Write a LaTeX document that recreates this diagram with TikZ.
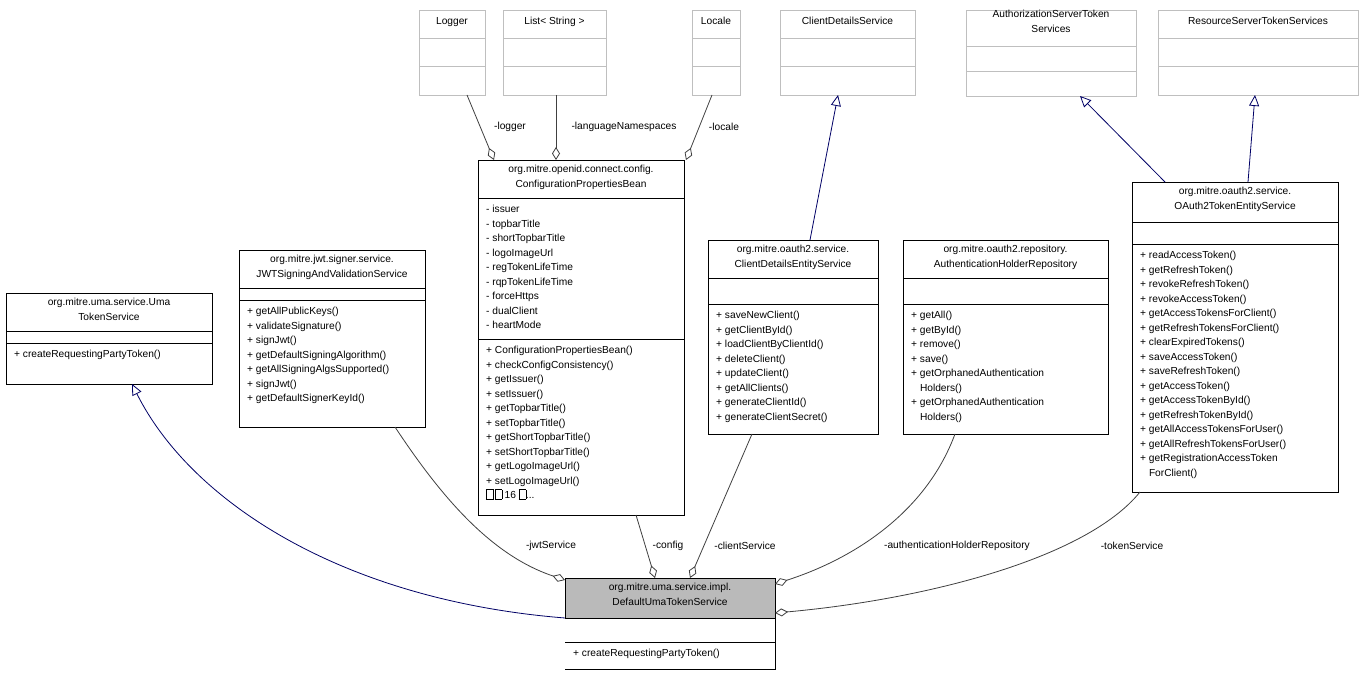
\documentclass[tikz,border=0pt]{standalone}
\usepackage{fontspec}
\setmainfont{Liberation Sans}
\usetikzlibrary{arrows.meta}
\begin{document}
\begin{tikzpicture}[x=1pt,y=-1pt,
  txt/.style={font=\fontsize{10.2}{14.5}\selectfont,inner sep=0pt,align=left},
  ttl/.style={txt,align=center,anchor=north},
  lst/.style={txt,anchor=north west},
  agg/.style={draw=black!75,line width=0.8pt,-{Diamond[open,length=13pt,width=8pt]}},
  gen/.style={draw=blue!40!black,line width=0.8pt,-{Triangle[open,length=11pt,width=10pt]}},
  lbl/.style={txt,fill=white,inner sep=1pt}]
\def\mysq{\framebox(7,9){}}
\def\umlfill{white}
\def\umlframe#1#2#3#4#5#6#7#8{%
  \node[draw=#8,line width=0.8pt,anchor=north west,inner sep=0pt,minimum width=#4*1pt,minimum height={(#7-#3)*1pt},fill=\umlfill] (#1) at (#2,#3) {};
  \draw[draw=#8,line width=0.8pt] (#2,#5) -- ++(#4,0) (#2,#6) -- ++(#4,0);}
\fill[white] (0,0) rectangle (1363,676);
\useasboundingbox (0,0) rectangle (1363,676);
% external classes
\umlframe{logger}{419}{10}{66}{38}{66}{95}{black!25}
\node[ttl] at (452,17) {Logger};
\umlframe{list}{503}{10}{103}{38}{66}{95}{black!25}
\node[ttl] at (554.5,17) {List< String >};
\umlframe{locale}{692}{10}{48}{38}{66}{95}{black!25}
\node[ttl] at (716,17) {Locale};
\umlframe{cds}{780}{10}{135}{38}{66}{95}{black!25}
\node[ttl] at (847.5,17) {ClientDetailsService};
\umlframe{asts}{966}{10}{170}{46}{71}{96}{black!25}
\node[ttl] at (1051,10) {AuthorizationServerToken\\Services};
\umlframe{rsts}{1158}{10}{200}{38}{66}{95}{black!25}
\node[ttl] at (1258,17) {ResourceServerTokenServices};
% config
\umlframe{cfg}{478}{160}{206}{198}{339}{515}{black}
\node[ttl] at (581,165) {org.mitre.openid.connect.config.\\ConfigurationPropertiesBean};
\node[lst] at (486,205) {- issuer\\- topbarTitle\\- shortTopbarTitle\\- logoImageUrl\\- regTokenLifeTime\\- rqpTokenLifeTime\\- forceHttps\\- dualClient\\- heartMode};
\node[lst] at (486,346) {+ ConfigurationPropertiesBean()\\+ checkConfigConsistency()\\+ getIssuer()\\+ setIssuer()\\+ getTopbarTitle()\\+ setTopbarTitle()\\+ getShortTopbarTitle()\\+ setShortTopbarTitle()\\+ getLogoImageUrl()\\+ setLogoImageUrl()\\\mysq\,\mysq{} 16 \mysq...};
% jwt
\umlframe{jwt}{239}{250}{186}{288}{300}{427}{black}
\node[ttl] at (332,255) {org.mitre.jwt.signer.service.\\JWTSigningAndValidationService};
\node[lst] at (247,307) {+ getAllPublicKeys()\\+ validateSignature()\\+ signJwt()\\+ getDefaultSigningAlgorithm()\\+ getAllSigningAlgsSupported()\\+ signJwt()\\+ getDefaultSignerKeyId()};
% uma
\umlframe{uma}{6}{293}{206}{331}{343}{384}{black}
\node[ttl] at (109,298) {org.mitre.uma.service.Uma\\TokenService};
\node[lst] at (14,350) {+ createRequestingPartyToken()};
% client details entity
\umlframe{cdes}{708}{240}{170}{278}{304}{434}{black}
\node[ttl] at (793,245) {org.mitre.oauth2.service.\\ClientDetailsEntityService};
\node[lst] at (716,311) {+ saveNewClient()\\+ getClientById()\\+ loadClientByClientId()\\+ deleteClient()\\+ updateClient()\\+ getAllClients()\\+ generateClientId()\\+ generateClientSecret()};
% auth holder
\umlframe{ahr}{903}{240}{205}{278}{304}{434}{black}
\node[ttl] at (1005.5,245) {org.mitre.oauth2.repository.\\AuthenticationHolderRepository};
\node[lst] at (911,311) {+ getAll()\\+ getById()\\+ remove()\\+ save()\\+ getOrphanedAuthentication\\\phantom{+ }Holders()\\+ getOrphanedAuthentication\\\phantom{+ }Holders()};
% oauth2 token entity
\umlframe{otes}{1132}{182}{206}{222}{244}{492}{black}
\node[ttl] at (1235,187) {org.mitre.oauth2.service.\\OAuth2TokenEntityService};
\node[lst] at (1140,251) {+ readAccessToken()\\+ getRefreshToken()\\+ revokeRefreshToken()\\+ revokeAccessToken()\\+ getAccessTokensForClient()\\+ getRefreshTokensForClient()\\+ clearExpiredTokens()\\+ saveAccessToken()\\+ saveRefreshToken()\\+ getAccessToken()\\+ getAccessTokenById()\\+ getRefreshTokenById()\\+ getAllAccessTokensForUser()\\+ getAllRefreshTokensForUser()\\+ getRegistrationAccessToken\\\phantom{+ }ForClient()};
% default
\def\umlfill{black!27}
\umlframe{dflt}{565}{578}{210}{618}{642}{669}{black}
\fill[white] (565.4,618.4) rectangle (774.6,668.6);
\draw[line width=0.8pt] (565,618) -- (775,618) (565,642) -- (775,642);
\node[ttl] at (670,583) {org.mitre.uma.service.impl.\\DefaultUmaTokenService};
\node[lst] at (573,649) {+ createRequestingPartyToken()};
% coordinates
\coordinate (dJ) at (565,580);
\coordinate (dC) at (655,578);
\coordinate (dS) at (690,578);
\coordinate (dA) at (775,584);
\coordinate (dT) at (775,613);
\coordinate (dU) at (565,618);
\coordinate (cL) at (494,160);
\coordinate (cN) at (556,160);
\coordinate (cO) at (686,160);
% connectors
\draw[agg] (467,95) -- (cL);
\draw[agg] (556,95) -- (cN);
\draw[agg] (712,95) -- (cO);
\node[lbl] at (510,127) {-logger};
\node[lbl] at (624,127) {-languageNamespaces};
\node[lbl] at (724,127) {-locale};
\draw[gen] (810,240) -- (838,95);
\draw[gen] (1165,182) -- (1080,96);
\draw[gen] (1248,182) -- (1255,95);
\draw[agg] (395,427) .. controls (440,495) and (490,555) .. (dJ);
\draw[agg] (636,515) -- (dC);
\draw[agg] (752,434) -- (dS);
\draw[agg] (955,434) .. controls (925,515) and (850,560) .. (dA);
\draw[agg] (1140,492) .. controls (1085,560) and (920,600) .. (dT);
\draw[gen] (dU) .. controls (340,600) and (190,500) .. (132,384);
\node[lbl] at (551,546) {-jwtService};
\node[lbl] at (668,546) {-config};
\node[lbl] at (745,546) {-clientService};
\node[lbl] at (957,546) {-authenticationHolderRepository};
\node[lbl] at (1132,546) {-tokenService};
\end{tikzpicture}
\end{document}
